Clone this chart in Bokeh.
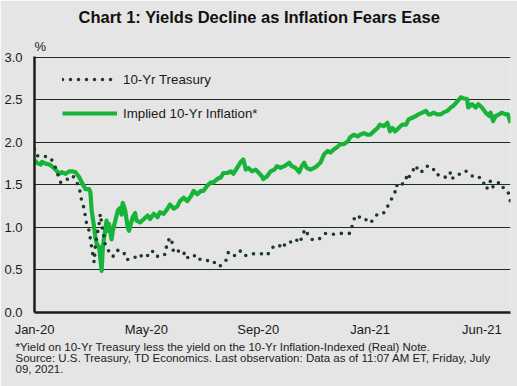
from bokeh.plotting import figure
from bokeh.models import Range1d, FixedTicker, Legend, LegendItem, Title
from bokeh.embed import file_html
from bokeh.resources import INLINE

# ---------------- data (x = trading-day index, 0 = 2 Jan 2020, 383 = 9 Jul 2021) ----------------
treasury_day = [0, 2, 5, 7, 10, 13, 14, 17, 19, 21, 22, 24, 26, 29, 32, 34, 36, 37, 38, 40, 41, 42,
                44, 45, 46, 47, 48, 49, 50, 51, 52, 53, 54, 55, 56, 57, 59, 61, 64, 67, 69, 72, 73,
                76, 79, 81, 84, 87, 89, 92, 95, 97, 100, 103, 105, 107, 110, 111, 112, 115, 117,
                120, 122, 126, 130, 131, 135, 138, 140, 144, 146, 150, 154, 156, 159, 163, 166,
                170, 174, 178, 183, 187, 190, 193, 197, 199, 202, 205, 207, 210, 214, 215, 218,
                221, 223, 226, 229, 231, 234, 238, 242, 246, 250, 254, 256, 258, 261, 264, 266,
                270, 273, 276, 280, 283, 285, 288, 290, 291, 294, 296, 299, 301, 302, 305, 307,
                309, 312, 315, 319, 321, 323, 325, 328, 332, 335, 336, 340, 343, 345, 348, 351,
                353, 356, 359, 364, 365, 368, 369, 372, 374, 376, 378, 382, 383]
treasury_val = [1.92, 1.84, 1.85, 1.84, 1.83, 1.82, 1.79, 1.70, 1.61, 1.53, 1.55, 1.56, 1.56, 1.61,
                1.59, 1.53, 1.47, 1.39, 1.31, 1.22, 1.12, 1.04, 0.96, 0.86, 0.77, 0.67, 0.59, 0.79,
                0.88, 0.96, 1.04, 1.16, 1.04, 0.96, 0.88, 0.79, 0.75, 0.67, 0.66, 0.73, 0.73, 0.71,
                0.63, 0.62, 0.63, 0.65, 0.63, 0.69, 0.69, 0.66, 0.72, 0.66, 0.66, 0.69, 0.68, 0.84,
                0.88, 0.79, 0.70, 0.71, 0.74, 0.71, 0.63, 0.68, 0.66, 0.62, 0.63, 0.61, 0.61, 0.61,
                0.55, 0.55, 0.61, 0.71, 0.67, 0.67, 0.73, 0.67, 0.69, 0.69, 0.69, 0.67, 0.73, 0.79,
                0.79, 0.75, 0.81, 0.84, 0.82, 0.86, 0.82, 0.90, 0.98, 0.88, 0.86, 0.85, 0.86, 0.90,
                0.93, 0.92, 0.92, 0.93, 0.93, 0.93, 1.04, 1.14, 1.12, 1.13, 1.10, 1.05, 1.10, 1.16,
                1.16, 1.20, 1.28, 1.35, 1.41, 1.50, 1.47, 1.51, 1.59, 1.55, 1.63, 1.68, 1.73, 1.65,
                1.66, 1.72, 1.72, 1.68, 1.68, 1.61, 1.61, 1.58, 1.65, 1.58, 1.59, 1.65, 1.66, 1.66,
                1.63, 1.59, 1.58, 1.59, 1.45, 1.53, 1.55, 1.47, 1.52, 1.53, 1.47, 1.47, 1.39, 1.30]

inflation_day = [0, 2, 5, 6, 9, 12, 14, 17, 20, 22, 25, 28, 30, 33, 36, 38, 41, 44, 45, 46, 48, 49,
                 50, 52, 54, 55, 56, 58, 59, 60, 62, 63, 65, 67, 69, 70, 71, 73, 75, 76, 79, 81, 82,
                 85, 88, 91, 93, 96, 99, 101, 104, 107, 109, 112, 115, 117, 120, 123, 126, 128, 131,
                 134, 136, 139, 142, 144, 147, 150, 152, 155, 158, 160, 163, 166, 168, 170, 172,
                 175, 178, 180, 183, 184, 187, 190, 193, 195, 198, 201, 203, 205, 207, 210, 213,
                 215, 217, 219, 222, 225, 227, 230, 233, 236, 238, 241, 244, 246, 249, 252, 254,
                 257, 260, 262, 265, 268, 270, 273, 276, 278, 281, 284, 286, 288, 290, 293, 296,
                 299, 301, 304, 307, 309, 312, 315, 317, 319, 321, 324, 327, 329, 332, 335, 337,
                 340, 343, 345, 348, 349, 352, 355, 357, 360, 363, 366, 367, 369, 371, 374, 376,
                 379, 381, 383]
inflation_val = [1.79, 1.76, 1.74, 1.77, 1.75, 1.74, 1.72, 1.68, 1.63, 1.65, 1.63, 1.66, 1.66, 1.65,
                 1.59, 1.53, 1.45, 1.45, 1.41, 1.20, 1.00, 0.88, 0.81, 0.77, 0.49, 0.77, 0.88, 1.08,
                 0.96, 1.04, 0.86, 0.96, 1.08, 1.20, 1.23, 1.15, 1.29, 1.20, 1.00, 0.96, 1.12, 1.17,
                 1.08, 1.06, 1.10, 1.14, 1.10, 1.16, 1.12, 1.18, 1.16, 1.22, 1.27, 1.22, 1.25, 1.31,
                 1.35, 1.31, 1.37, 1.43, 1.39, 1.43, 1.43, 1.49, 1.53, 1.53, 1.57, 1.59, 1.64, 1.64,
                 1.66, 1.63, 1.70, 1.77, 1.80, 1.68, 1.70, 1.66, 1.68, 1.65, 1.60, 1.57, 1.60, 1.66,
                 1.68, 1.72, 1.70, 1.72, 1.74, 1.76, 1.72, 1.70, 1.65, 1.72, 1.76, 1.70, 1.68, 1.70,
                 1.72, 1.76, 1.86, 1.90, 1.88, 1.92, 1.95, 1.98, 1.98, 2.01, 2.06, 2.09, 2.07, 2.09,
                 2.11, 2.09, 2.09, 2.13, 2.17, 2.21, 2.19, 2.23, 2.13, 2.17, 2.13, 2.17, 2.21, 2.21,
                 2.27, 2.29, 2.31, 2.33, 2.35, 2.37, 2.33, 2.33, 2.35, 2.33, 2.33, 2.35, 2.37, 2.41,
                 2.43, 2.48, 2.53, 2.52, 2.51, 2.41, 2.45, 2.41, 2.45, 2.41, 2.35, 2.31, 2.35, 2.25,
                 2.31, 2.33, 2.35, 2.33, 2.33, 2.23]

x_tick_days = [0, 90, 180, 270, 360]
x_tick_labels = ["Jan-20", "May-20", "Sep-20", "Jan-21", "Jun-21"]
y_ticks = [0.0, 0.5, 1.0, 1.5, 2.0, 2.5, 3.0]
y_tick_labels = ["0.0", "0.5", "1.0", "1.5", "2.0", "2.5", "3.0"]

title_text = "Chart 1: Yields Decline as Inflation Fears Ease"
note_text = ("*Yield on 10-Yr Treasury less the yield on the 10-Yr Inflation-Indexed  (Real) Note.\n"
             "Source: U.S. Treasury, TD Economics.  Last observation: Data as of 11:07 AM ET, Friday, July\n"
             "09, 2021.")

# ---------------- layout ----------------
W, H = 517, 386
FL, FR, FT, FB = 34, 510, 56, 312
XMAX = 383
BG = "#e5e5e5"
FONT = "Liberation Sans"
TXT = "#1a1a1a"

p = figure(width=W, height=H, output_backend="svg", toolbar_location=None,
           x_range=Range1d(0, XMAX), y_range=Range1d(0, 3.01),
           min_border_left=FL, min_border_right=W - FR, min_border_top=FT,
           min_border_bottom=H - FB)
p.title.visible = False
p.background_fill_color = BG
p.border_fill_color = BG
p.outline_line_color = None

p.xgrid.visible = False
p.ygrid.ticker = FixedTicker(ticks=y_ticks)
p.ygrid.grid_line_color = "#1c2e20"
p.ygrid.grid_line_width = 1

p.yaxis.ticker = FixedTicker(ticks=y_ticks)
p.yaxis.major_label_overrides = {t: l for t, l in zip(y_ticks, y_tick_labels)}
p.xaxis.ticker = FixedTicker(ticks=x_tick_days)
p.xaxis.major_label_overrides = {t: l for t, l in zip(x_tick_days, x_tick_labels)}
for ax in (p.xaxis, p.yaxis):
    ax.axis_line_color = "#1a1f14"
    ax.axis_line_width = 2.5
    ax.major_tick_line_color = None
    ax.minor_tick_line_color = None
    ax.major_tick_out = 0
    ax.major_tick_in = 0
    ax.major_label_text_font = FONT
    ax.major_label_text_font_size = "13px"
    ax.major_label_text_color = TXT
p.yaxis.major_label_standoff = 12
p.xaxis.major_label_standoff = 9

r_inf = p.line(inflation_day, inflation_val, line_color="#18b43a", line_width=4.2,
               line_join="round")
r_tr = p.line(treasury_day, treasury_val, line_color="#1d3a26", line_width=3.6,
              line_dash="0 8", line_cap="round")

legend = Legend(items=[LegendItem(label="10-Yr Treasury", renderers=[r_tr]),
                       LegendItem(label="Implied 10-Yr Inflation*", renderers=[r_inf])],
                location=(28, 189))
legend.border_line_color = None
legend.background_fill_alpha = 0
legend.glyph_width = 55
legend.glyph_height = 20
legend.label_height = 20
legend.label_standoff = 6
legend.padding = 0
legend.margin = 0
legend.spacing = 14
legend.label_text_font = FONT
legend.label_text_font_size = "13.3px"
legend.label_text_color = TXT
p.add_layout(legend)

# texts around the frame (added to side panels; the first added sits nearest the frame)
p.add_layout(Title(text="%", align="left", offset=0, standoff=5,
                   text_font=FONT, text_font_size="13px", text_font_style="normal",
                   text_color=TXT), "above")
p.add_layout(Title(text=title_text, align="left", offset=44, standoff=13, vertical_align="top",
                   text_font=FONT, text_font_size="16.5px", text_font_style="bold",
                   text_color="#111111"), "above")
p.add_layout(Title(text=note_text, align="left", offset=-19, standoff=2, vertical_align="top",
                   text_font=FONT, text_font_size="11.5px", text_font_style="normal",
                   text_line_height=0.95, text_color="#222222"), "below")

open("out.html", "w").write(file_html(p, INLINE))
